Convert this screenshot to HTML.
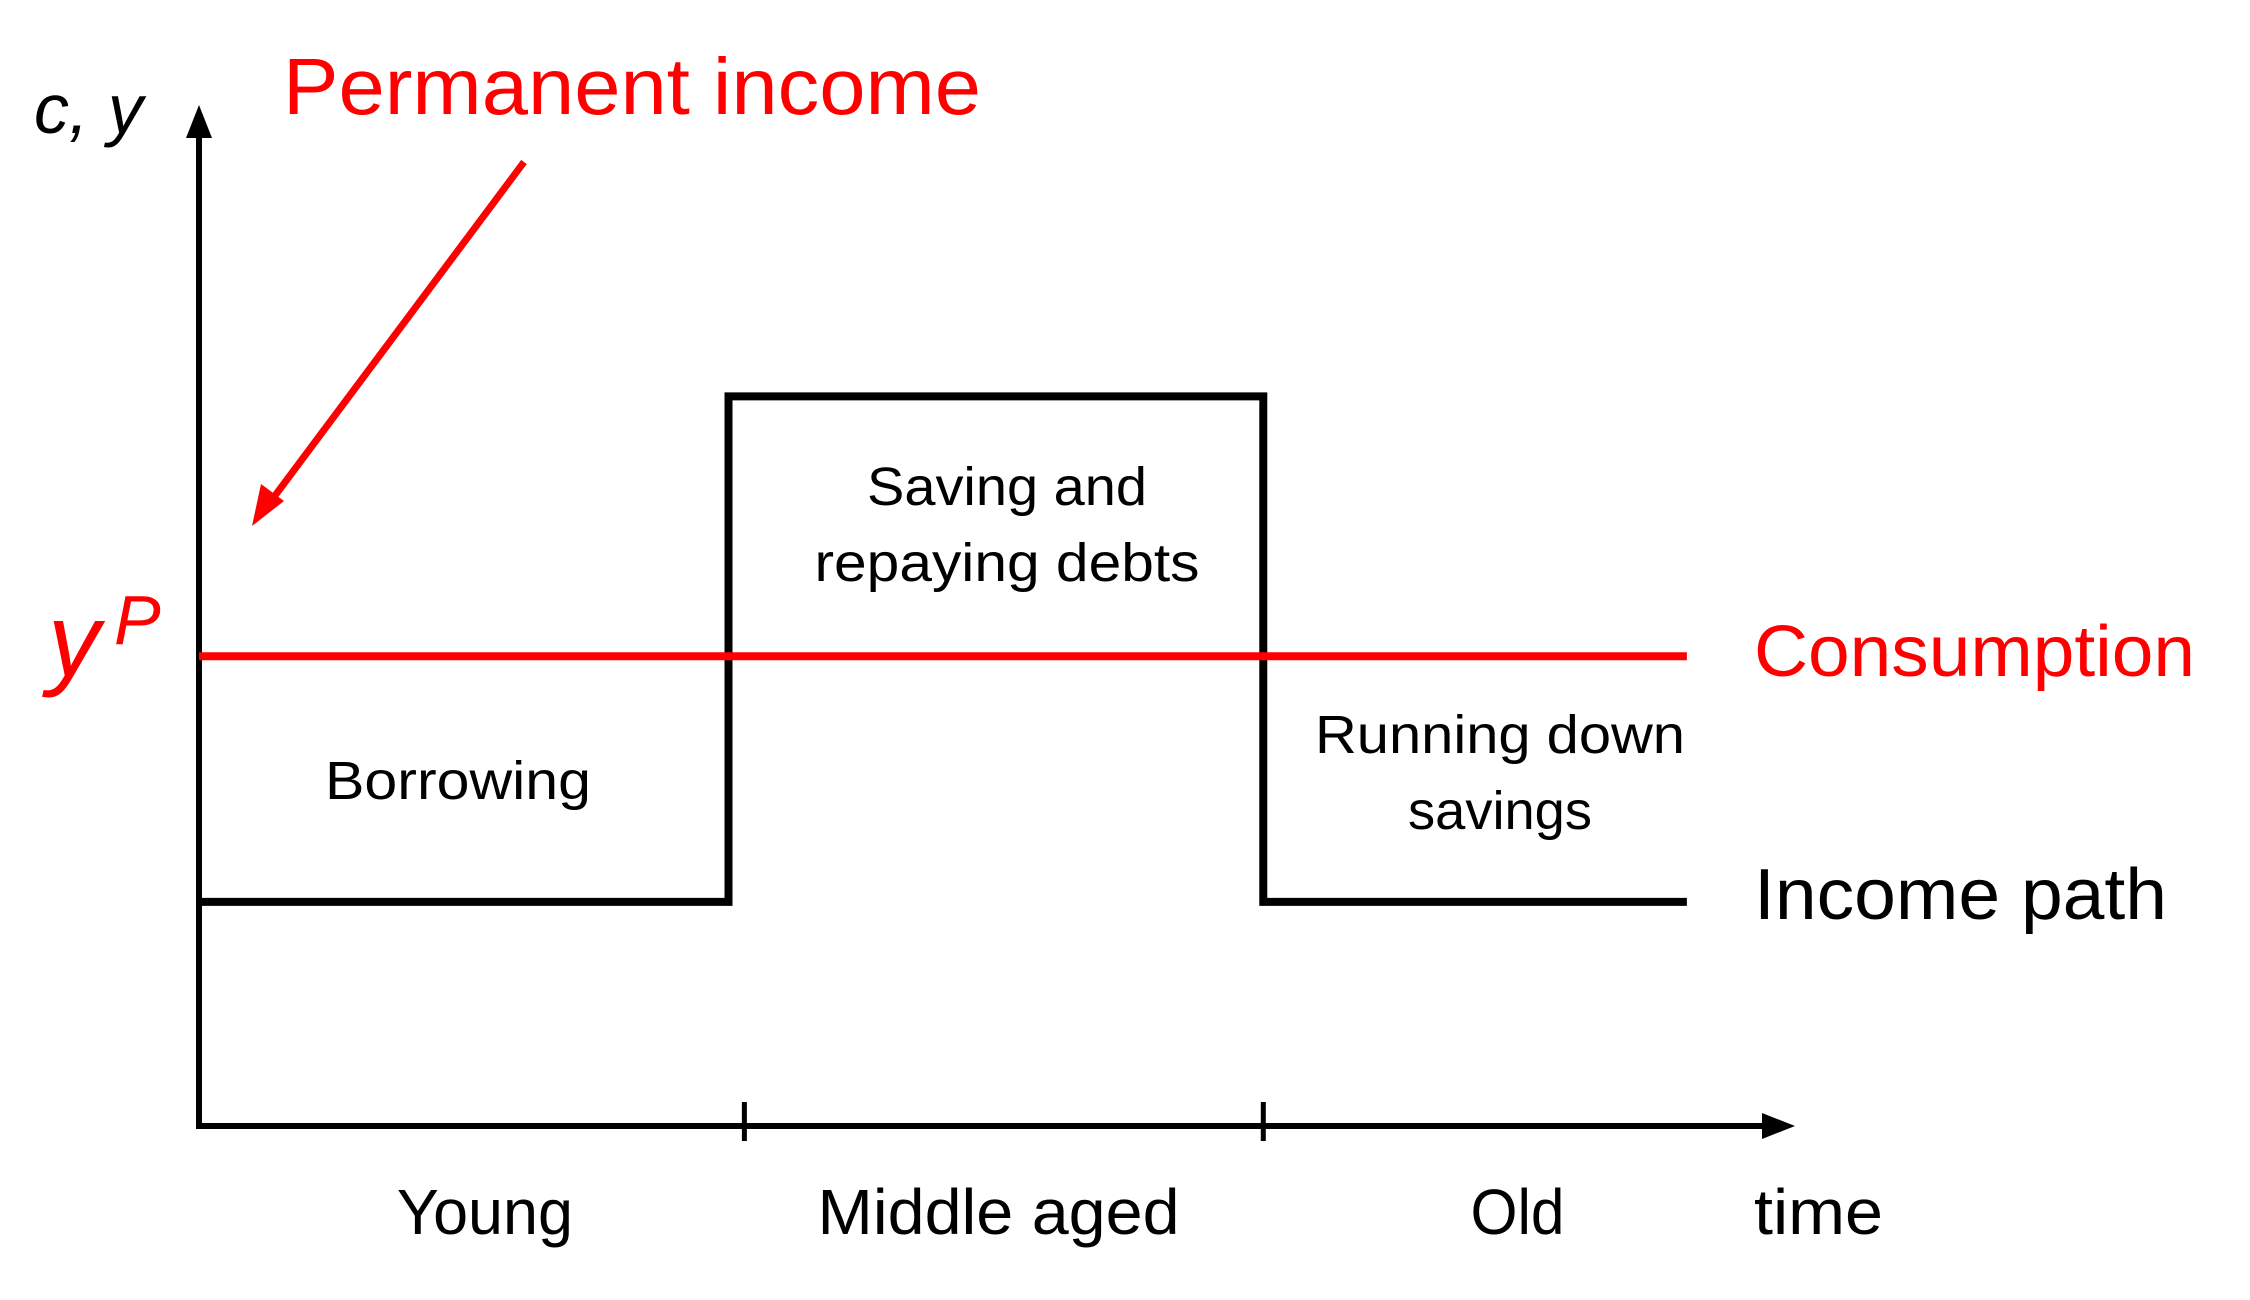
<!DOCTYPE html>
<html><head><meta charset="utf-8"><style>
html,body{margin:0;padding:0;background:#fff;}
svg{display:block;}
text{font-family:"Liberation Sans",sans-serif;}
</style></head><body>
<svg id="chart" width="2250" height="1300" viewBox="0 0 2250 1300" xmlns="http://www.w3.org/2000/svg">
<g>
  <line x1="199" y1="1129" x2="199" y2="130" stroke="#000" stroke-width="6"/>
  <polygon points="199,105 186,138 212,138" fill="#000"/>
  <line x1="196" y1="1126" x2="1768" y2="1126" stroke="#000" stroke-width="6"/>
  <polygon points="1795,1126 1762,1113 1762,1139" fill="#000"/>
</g>
<g id="ticks"></g>
<g id="series"></g>
<text x="34" y="133" font-family="Liberation Serif,serif" font-style="italic" font-size="70" fill="#000">c, y</text>
<text x="283" y="114" font-size="80" fill="#ff0000" textLength="698" lengthAdjust="spacingAndGlyphs">Permanent income</text>
<g>
  <line x1="524" y1="162" x2="268" y2="505" stroke="#ff0000" stroke-width="7"/>
  <polygon points="252,526 261,484 284,501" fill="#ff0000"/>
</g>
<text x="48" y="676" font-family="Liberation Serif,serif" font-style="italic" font-size="104" fill="#ff0000">y</text>
<text x="114" y="644" font-family="Liberation Serif,serif" font-style="italic" font-size="70" fill="#ff0000">P</text>
<text x="1754" y="676" font-size="72" fill="#ff0000" textLength="441" lengthAdjust="spacingAndGlyphs">Consumption</text>
<text x="1754" y="919" font-size="72" fill="#000" textLength="413" lengthAdjust="spacingAndGlyphs">Income path</text>
<text x="325" y="799" font-size="54" fill="#000" textLength="266" lengthAdjust="spacingAndGlyphs">Borrowing</text>
<text x="1007" y="505" text-anchor="middle" font-size="54" fill="#000" textLength="280" lengthAdjust="spacingAndGlyphs">Saving and</text>
<text x="1007" y="581" text-anchor="middle" font-size="54" fill="#000" textLength="385" lengthAdjust="spacingAndGlyphs">repaying debts</text>
<text x="1500" y="753" text-anchor="middle" font-size="54" fill="#000" textLength="370" lengthAdjust="spacingAndGlyphs">Running down</text>
<text x="1500" y="829" text-anchor="middle" font-size="54" fill="#000" textLength="184" lengthAdjust="spacingAndGlyphs">savings</text>
<g id="phaseLabels"></g>
<text x="1754" y="1234" font-size="64" fill="#000" textLength="129" lengthAdjust="spacingAndGlyphs">time</text>
</svg>
<script>
// data
const phases = ["Young", "Middle aged", "Old"];
const phaseStart = [0, 1, 2.01];
const phaseEnd = [1, 2.01, 2.81];
const incomeLevels = [2.2, 7.16, 2.2];
const consumptionLevel = [4.61];
const tickPositions = [1.03, 2.01];
const phaseLabelWidths = [176, 362, 94];
const phaseLabelCenters = [0.54, 1.51, 2.49];

const NS = "http://www.w3.org/2000/svg";
const x = t => 199 + t * 529.5;
const y = v => 1126 - v * 101.9;
function mk(tag, attrs, parent) {
  const e = document.createElementNS(NS, tag);
  for (const k in attrs) e.setAttribute(k, attrs[k]);
  parent.appendChild(e);
  return e;
}
const series = document.getElementById("series");
let d = "";
for (let i = 0; i < phases.length; i++) {
  d += (i === 0 ? "M" : "L") + x(phaseStart[i]) + "," + y(incomeLevels[i]);
  d += "L" + x(phaseEnd[i]) + "," + y(incomeLevels[i]);
}
const inc = mk("path", {d: d, fill: "none", stroke: "#000", "stroke-width": 8, "stroke-linejoin": "miter"}, series);


const cons = mk("line", {x1: x(0), x2: x(phaseEnd[phaseEnd.length - 1]), y1: y(consumptionLevel[0]), y2: y(consumptionLevel[0]), stroke: "#ff0000", "stroke-width": 8}, series);


const tg = document.getElementById("ticks");
tickPositions.forEach(t => {
  const l = mk("line", {x1: x(t), x2: x(t), y1: 1102, y2: 1141, stroke: "#000", "stroke-width": 5}, tg);
  
  
});
const pg = document.getElementById("phaseLabels");
phases.forEach((p, i) => {
  const t = mk("text", {x: x(phaseLabelCenters[i]), y: 1234, "text-anchor": "middle", "font-size": 64, fill: "#000", textLength: phaseLabelWidths[i], lengthAdjust: "spacingAndGlyphs"}, pg);
  t.textContent = p;
  
  
});
</script>
</body></html>
